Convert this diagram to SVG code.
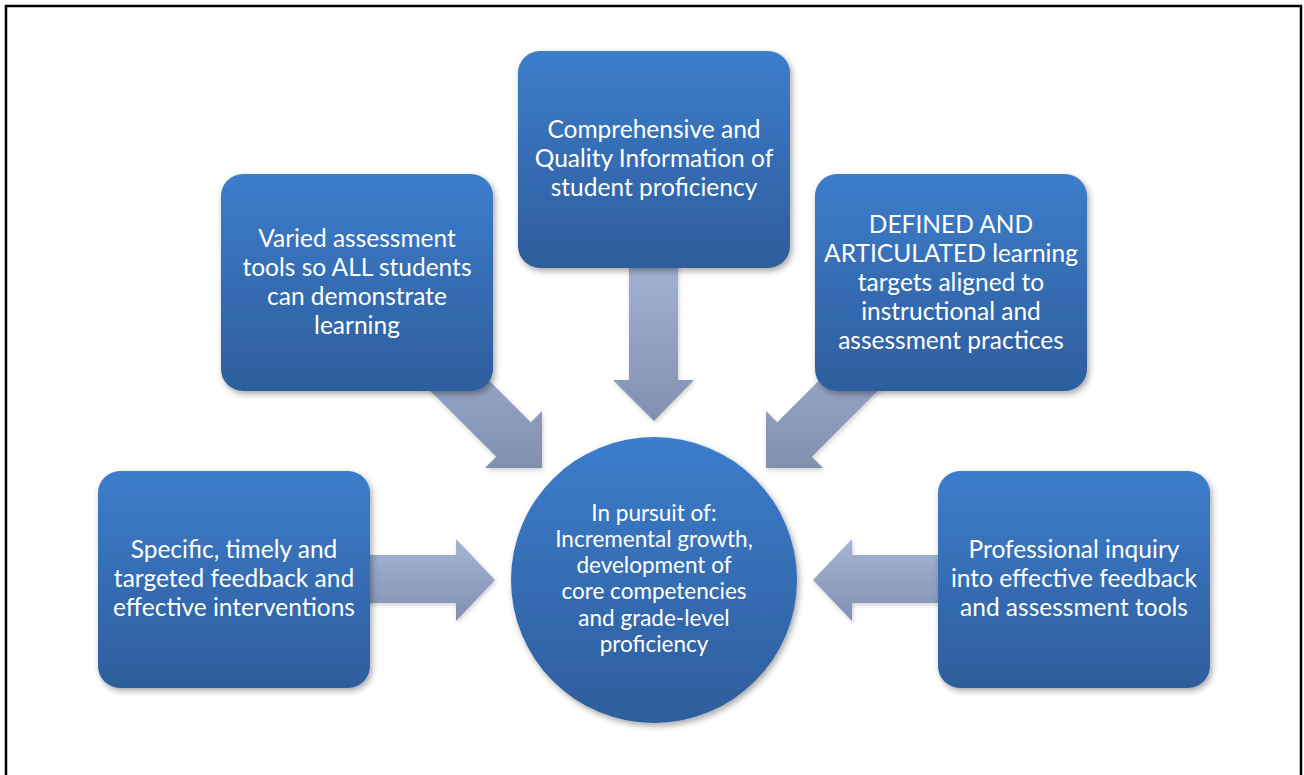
<svg xmlns="http://www.w3.org/2000/svg" width="1304" height="775" viewBox="0 0 1304 775">
  <style>
    .box { fill: url(#boxGrad); filter: url(#shadow); }
    .arrow { fill: url(#arrowGrad); filter: url(#arrowShadow); }
    .label { font-family: Lato, "Liberation Sans", sans-serif; font-size: 24.5px; fill: #ffffff; text-anchor: middle; }
    .hub { font-size: 22.5px; }
  </style>
  <defs>
    <linearGradient id="boxGrad" x1="0" y1="0" x2="0" y2="1">
      <stop offset="0" stop-color="#3c7dcb"/>
      <stop offset="1" stop-color="#2e5d9c"/>
    </linearGradient>
    <linearGradient id="arrowGrad" x1="0" y1="0" x2="0" y2="1">
      <stop offset="0" stop-color="#a5b5d6"/>
      <stop offset="1" stop-color="#8290b0"/>
    </linearGradient>
    <filter id="shadow" x="-10%" y="-10%" width="125%" height="125%">
      <feDropShadow dx="2" dy="3" stdDeviation="3" flood-color="#000000" flood-opacity="0.35"/>
    </filter>
    <filter id="arrowShadow" x="-10%" y="-10%" width="125%" height="125%">
      <feDropShadow dx="1" dy="2" stdDeviation="2" flood-color="#000000" flood-opacity="0.2"/>
    </filter>
  </defs>

  <!-- page frame -->
  <rect x="6" y="6" width="1295" height="800" fill="#ffffff" stroke="#000000" stroke-width="2.5"/>

  <!-- block arrows pointing into the hub -->
  <g id="connectors">
    <!-- from top -->
    <polygon class="arrow" points="629,250 678,250 678,380 694,380 654,421 613,380 629,380"/>
    <!-- from upper left (45 degrees) -->
    <polygon class="arrow" points="410.8,302.2 530.8,422.2 542,411 542,468 485,468 496.2,456.8 376.2,336.8"/>
    <!-- from upper right (45 degrees) -->
    <polygon class="arrow" points="897.2,302.2 777.2,422.2 766,411 766,468 823,468 811.8,456.8 931.8,336.8"/>
    <!-- from left -->
    <polygon class="arrow" points="350,555 456,555 456,539 495,580 456,621 456,603 350,603"/>
    <!-- from right -->
    <polygon class="arrow" points="958,555 852,555 852,539 813,580 852,621 852,603 958,603"/>
  </g>

  <g id="node-info">
    <rect class="box" x="518" y="51" width="272" height="217" rx="22"/>
    <text class="label" x="654" y="138">Comprehensive and</text>
    <text class="label" x="654" y="167">Quality Information of</text>
    <text class="label" x="654" y="196">student proficiency</text>
  </g>

  <g id="node-tools">
    <rect class="box" x="221" y="174" width="272" height="217" rx="22"/>
    <text class="label" x="357" y="247">Varied assessment</text>
    <text class="label" x="357" y="276">tools so ALL students</text>
    <text class="label" x="357" y="305">can demonstrate</text>
    <text class="label" x="357" y="334">learning</text>
  </g>

  <g id="node-targets">
    <rect class="box" x="815" y="174" width="272" height="217" rx="22"/>
    <text class="label" x="951" y="233">DEFINED AND</text>
    <text class="label" x="951" y="262">ARTICULATED learning</text>
    <text class="label" x="951" y="291">targets aligned to</text>
    <text class="label" x="951" y="320">instructional and</text>
    <text class="label" x="951" y="349">assessment practices</text>
  </g>

  <g id="node-feedback">
    <rect class="box" x="98" y="471" width="272" height="217" rx="22"/>
    <text class="label" x="234" y="558">Specific, timely and</text>
    <text class="label" x="234" y="587">targeted feedback and</text>
    <text class="label" x="234" y="616">effective interventions</text>
  </g>

  <g id="node-inquiry">
    <rect class="box" x="938" y="471" width="272" height="217" rx="22"/>
    <text class="label" x="1074" y="558">Professional inquiry</text>
    <text class="label" x="1074" y="587">into effective feedback</text>
    <text class="label" x="1074" y="616">and assessment tools</text>
  </g>

  <g id="node-hub">
    <circle class="box" cx="654" cy="580" r="143"/>
    <text class="label hub" x="654" y="521">In pursuit of:</text>
    <text class="label hub" x="654" y="547">Incremental growth,</text>
    <text class="label hub" x="654" y="573">development of</text>
    <text class="label hub" x="654" y="599">core competencies</text>
    <text class="label hub" x="654" y="626">and grade-level</text>
    <text class="label hub" x="654" y="652">proficiency</text>
  </g>
</svg>
